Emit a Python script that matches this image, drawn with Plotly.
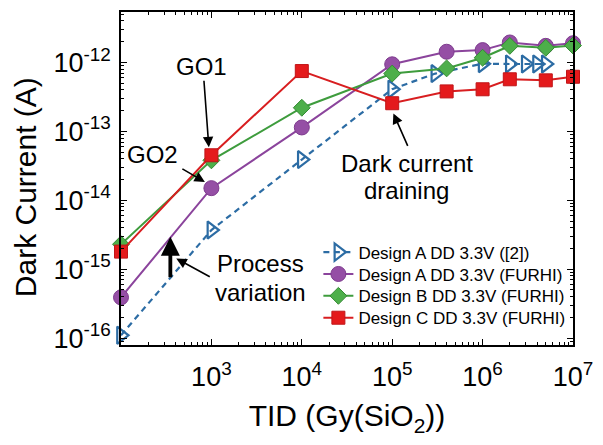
import plotly.graph_objects as go

# Total ionizing dose (Gy(SiO2)) and measured dark current (A)
tid_a_ref = [1e2, 1e3, 1e4, 1e5, 3e5, 1e6, 2e6, 3e6, 4e6, 5e6]
dc_a_ref = [1.1e-16, 3.7e-15, 3.9e-14, 4.1e-13, 6.9e-13, 9.6e-13, 9.5e-13, 9.5e-13, 9.5e-13, 9.5e-13]

tid_furhi = [1e2, 1e3, 1e4, 1e5, 4e5, 1e6, 2e6, 5e6, 1e7]
dc_a_furhi = [3.9e-16, 1.5e-14, 1.14e-13, 9.4e-13, 1.43e-12, 1.51e-12, 1.95e-12, 1.74e-12, 1.9e-12]
dc_b_furhi = [2.3e-15, 3.8e-14, 2.2e-13, 6.9e-13, 8.2e-13, 1.17e-12, 1.74e-12, 1.63e-12, 1.76e-12]
dc_c_furhi = [1.8e-15, 4.5e-14, 7.5e-13, 2.56e-13, 3.8e-13, 4.08e-13, 5.7e-13, 5.5e-13, 6.2e-13]

series_names = [
    "Design A DD 3.3V ([2])",
    "Design A DD 3.3V (FURHI)",
    "Design B DD 3.3V (FURHI)",
    "Design C DD 3.3V (FURHI)",
]

x_tick_vals = [1e3, 1e4, 1e5, 1e6, 1e7]
x_tick_text = ["10<sup>3</sup>", "10<sup>4</sup>", "10<sup>5</sup>", "10<sup>6</sup>", "10<sup>7</sup>"]
y_tick_vals = [1e-16, 1e-15, 1e-14, 1e-13, 1e-12]
y_tick_text = ["10<sup>-16</sup>", "10<sup>-15</sup>", "10<sup>-14</sup>", "10<sup>-13</sup>", "10<sup>-12</sup>"]

FONT = "Arial, 'Liberation Sans', sans-serif"

# plot-area pixel geometry used to place the callouts and legend rows
L, R, T, B = 121, 579, 10, 345


def px(x):
    return (x - L) / (R - L)


def py(y):
    return (B - y) / (B - T)


fig = go.Figure()

fig.add_trace(go.Scatter(
    x=tid_a_ref, y=dc_a_ref, name=series_names[0], mode="lines+markers",
    legend="legend", cliponaxis=False,
    line=dict(color="#2C6CA4", width=2.2, dash="6px,4.5px"),
    marker=dict(symbol="triangle-right-open", size=15, color="#2C6CA4",
                line=dict(width=2.2, color="#2C6CA4")),
))
fig.add_trace(go.Scatter(
    x=tid_furhi, y=dc_a_furhi, name=series_names[1], mode="lines+markers",
    legend="legend2", cliponaxis=False,
    line=dict(color="#8B449C", width=2),
    marker=dict(symbol="circle", size=15, color="#954FA5",
                line=dict(width=1, color="#7E3B8E")),
))
fig.add_trace(go.Scatter(
    x=tid_furhi, y=dc_b_furhi, name=series_names[2], mode="lines+markers",
    legend="legend3", cliponaxis=False,
    line=dict(color="#3E9C3D", width=2),
    marker=dict(symbol="diamond", size=13, color="#4DAF4A",
                line=dict(width=1, color="#358A34")),
))
fig.add_trace(go.Scatter(
    x=tid_furhi, y=dc_c_furhi, name=series_names[3], mode="lines+markers",
    legend="legend4", cliponaxis=False,
    line=dict(color="#D81E20", width=2),
    marker=dict(symbol="square", size=13, color="#E41A1C",
                line=dict(width=1, color="#C01518")),
))


def label(x, y, text, size=24, angle=0):
    fig.add_annotation(x=px(x), y=py(y), xref="paper", yref="paper", text=text,
                       showarrow=False, font=dict(family=FONT, size=size, color="black"),
                       xanchor="center", yanchor="middle", textangle=angle)


def arrow(x0, y0, x1, y1, width=1.6, size=1.3):
    fig.add_annotation(x=px(x1), y=py(y1), xref="paper", yref="paper", text="",
                       showarrow=True, ax=x0 - x1, ay=y0 - y1,
                       arrowhead=2, arrowsize=size, arrowwidth=width, arrowcolor="black")


label(203, 65, "GO1")
arrow(205, 78, 210, 146)
label(153, 153, "GO2")
arrow(182, 167, 206, 181)
label(411, 162, "Dark current")
label(410, 190, "draining")
arrow(412, 146, 397, 112)
label(262, 263, "Process")
label(262, 292, "variation")
arrow(212, 277, 177, 258)
arrow(171, 278, 171, 236, width=3.8, size=1.0)

# y-axis title
label(25, 186, "Dark Current (A)", size=30, angle=-90)

minor_x = [k * 10 ** d for d in range(2, 7) for k in range(2, 10)]
minor_y = [k * 10.0 ** d for d in range(-17, -11) for k in range(2, 10)]

axis_common = dict(
    type="log", showgrid=False, zeroline=False, showline=True, linecolor="black",
    linewidth=1.6, mirror="allticks", ticks="inside", ticklen=6, tickwidth=1.3,
    tickcolor="black", tickfont=dict(family=FONT, size=27, color="black"),
)

fig.update_xaxes(
    **axis_common, range=[2, 7], tickmode="array", tickvals=x_tick_vals, ticktext=x_tick_text,
    ticklabelstandoff=7,
    minor=dict(tickmode="array", tickvals=minor_x, ticks="inside", ticklen=3,
               tickwidth=1, tickcolor="black", showgrid=False),
    title=dict(text="TID (Gy(SiO<sub>2</sub>))", font=dict(family=FONT, size=30, color="black"),
               standoff=14),
)
fig.update_yaxes(
    **axis_common, range=[-16.10, -11.268], tickmode="array", tickvals=y_tick_vals,
    ticktext=y_tick_text, ticklabelstandoff=3,
    minor=dict(tickmode="array", tickvals=minor_y, ticks="inside", ticklen=3,
               tickwidth=1, tickcolor="black", showgrid=False),
)

legend_rows = [252, 274, 296, 318]
legend_style = dict(xanchor="left", yanchor="middle", bgcolor="rgba(0,0,0,0)", borderwidth=0,
                    font=dict(family=FONT, size=17, color="black"))

fig.update_layout(
    width=603, height=445,
    margin=dict(l=121, r=24, t=10, b=100),
    paper_bgcolor="white", plot_bgcolor="white",
    font=dict(family=FONT, color="black"),
    showlegend=True,
    legend=dict(x=px(321), y=py(legend_rows[0]), **legend_style),
    legend2=dict(x=px(321), y=py(legend_rows[1]), **legend_style),
    legend3=dict(x=px(321), y=py(legend_rows[2]), **legend_style),
    legend4=dict(x=px(321), y=py(legend_rows[3]), **legend_style),
)

fig.write_html("out.html")
